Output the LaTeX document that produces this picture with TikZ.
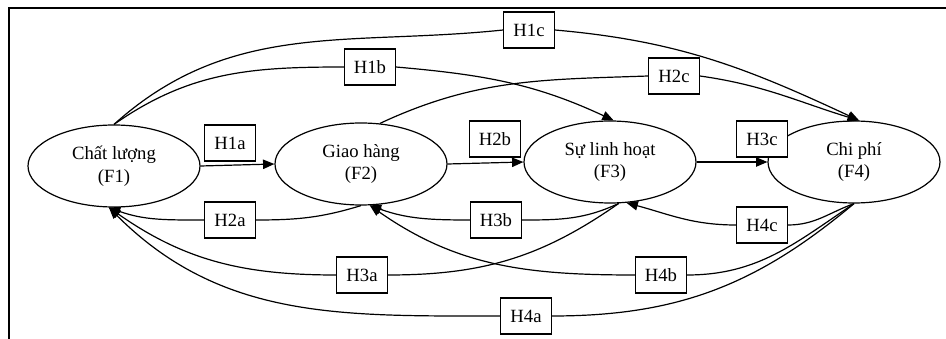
\documentclass[tikz,border=0pt]{standalone}
\usepackage{fontspec}
\setmainfont{Liberation Serif}
\usetikzlibrary{shapes.geometric,arrows.meta}

\begin{document}
\begin{tikzpicture}[
		x=0.75pt, y=0.75pt,
		line width=0.9pt,
		factor/.style={ellipse, draw, fill=white, minimum width=129pt, minimum height=61.5pt, inner sep=0pt, align=center, font=\fontsize{14pt}{17pt}\selectfont},
		hyp/.style={rectangle, draw, fill=white, minimum width=38pt, minimum height=27pt, inner sep=0pt, font=\fontsize{14pt}{16pt}\selectfont},
		arr/.style={-{Triangle[length=8.5pt,width=7pt]}}
	]
	\useasboundingbox (0,0) rectangle (946,339);
	\draw (9,0) -- (9,331) -- (946,331);
	\node[factor] (f1) at (114,173) {Chất lượng\\(F1)};
	\node[factor] (f2) at (361,175) {Giao hàng\\(F2)};
	\node[factor] (f3) at (610,177) {Sự linh hoạt\\(F3)};
	\node[factor] (f4) at (854,177) {Chi phí\\(F4)};
	\node[hyp] (h1a) at (230,196) {H1a};
	\node[hyp] (h2a) at (230,119) {H2a};
	\node[hyp] (h1b) at (370,272) {H1b};
	\node[hyp] (h1c) at (529,309) {H1c};
	\node[hyp] (h2b) at (495,200) {H2b};
	\node[hyp] (h3b) at (496,119) {H3b};
	\node[hyp] (h3a) at (362,64) {H3a};
	\node[hyp] (h4a) at (526,23) {H4a};
	\node[hyp] (h2c) at (674,263) {H2c};
	\node[hyp] (h3c) at (762,200) {H3c};
	\node[hyp] (h4c) at (762,114) {H4c};
	\node[hyp] (h4b) at (661,64) {H4b};
	\draw (f1.north) to[out=35,in=180] (h1b.west);
	\draw[arr] (h1b.east) to[out=-5,in=155] (f3.85);
	\draw (f1.north) to[out=42,in=186] (h1c.west);
	\draw[arr] (h1c.east) to[out=-5,in=155] (f4.83);
	\draw (f2.65) to[out=25,in=182] (h2c.west);
	\draw[arr] (h2c.east) to[out=-8,in=163] (f4.83);
	\draw[arr] (f1.east) -- (f2.west);
	\draw[arr] (f2.east) -- (f3.west);
	\draw[arr] (f3.east) -- (f4.west);
	\draw (f2.south) to[out=197,in=0] (h2a.east);
	\draw[arr] (h2a.west) to[out=180,in=-20] (f1.-97);
	\draw (f3.-78) to[out=205,in=0] (h3b.east);
	\draw[arr] (h3b.west) to[out=180,in=-20] (f2.-78);
	\draw (f4.south) to[out=200,in=0] (h4c.east);
	\draw[arr] (h4c.west) to[out=180,in=-15] (f3.-68);
	\draw (f3.-78) to[out=215,in=0] (h3a.east);
	\draw[arr] (h3a.west) to[out=180,in=-35] (f1.-97);
	\draw (f4.south) to[out=214,in=0] (h4b.east);
	\draw[arr] (h4b.west) to[out=180,in=-35] (f2.-78);
	\draw (f4.south) to[out=220,in=0] (h4a.east);
	\draw[arr] (h4a.west) to[out=180,in=-45] (f1.-97);
\end{tikzpicture}
\end{document}
